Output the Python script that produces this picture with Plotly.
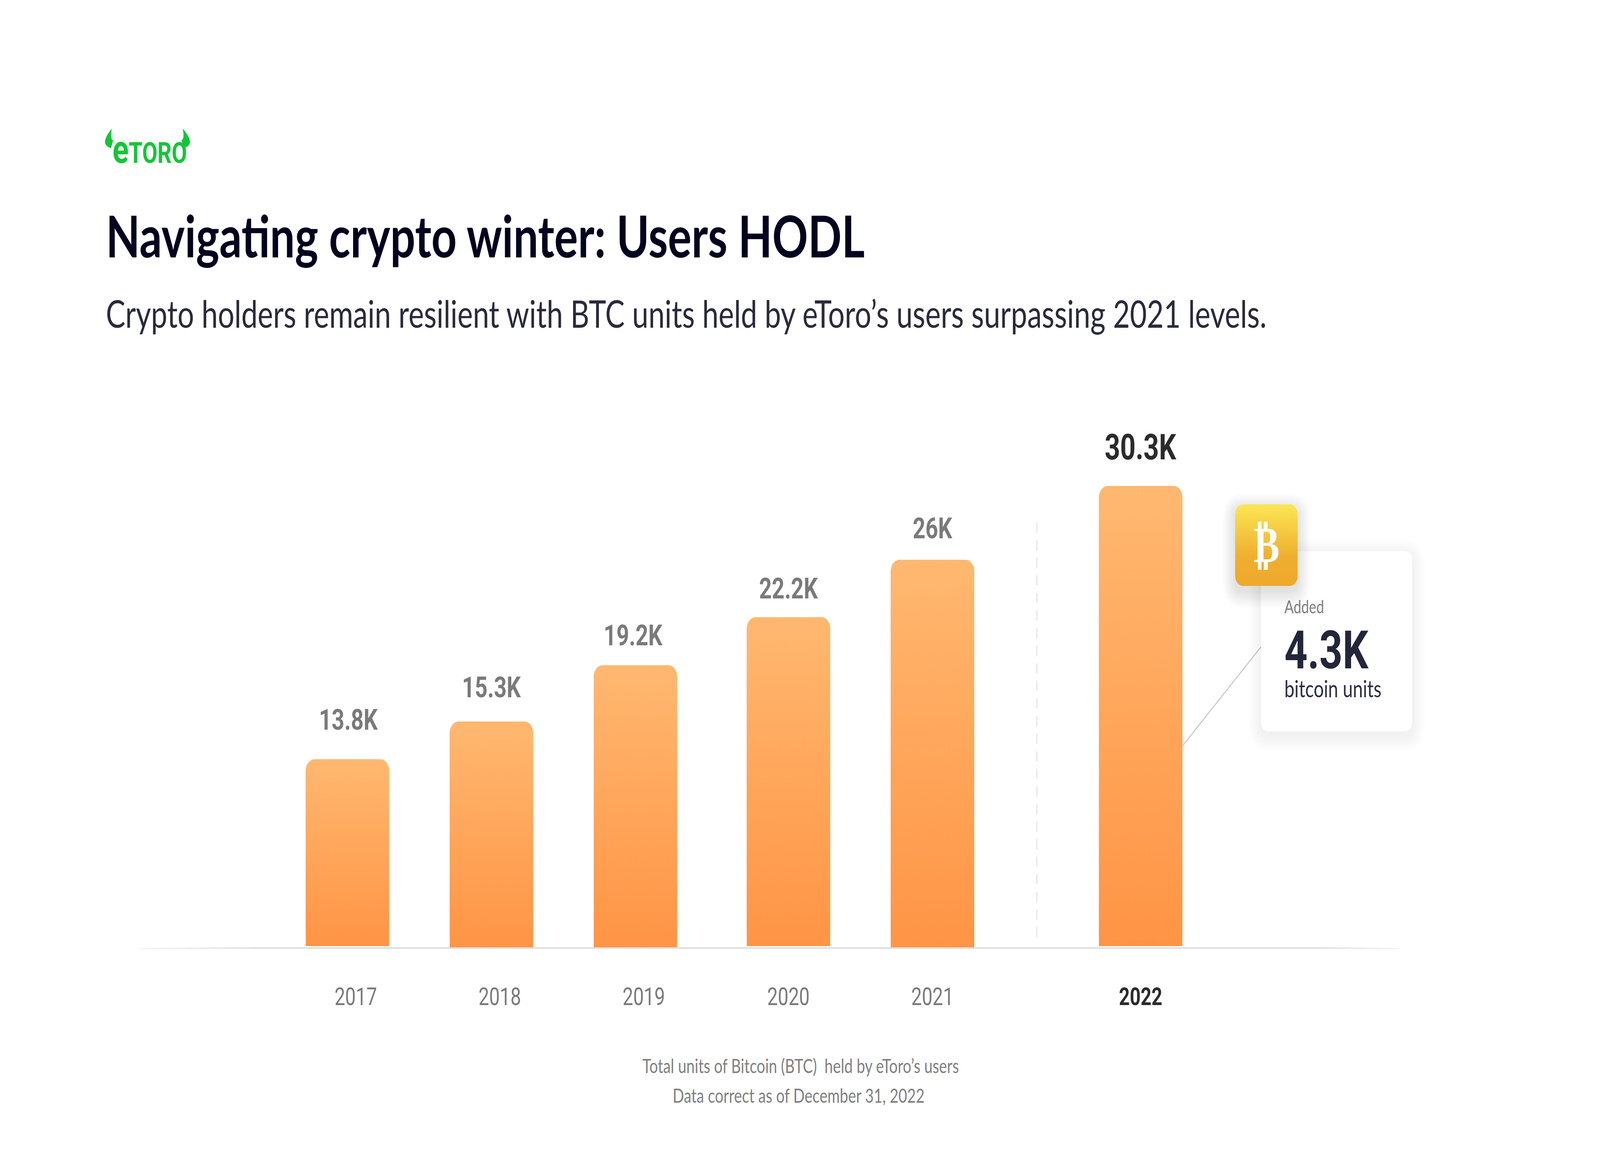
import numpy as np
import plotly.graph_objects as go

# ---- data ----
years = ["2017", "2018", "2019", "2020", "2021", "2022"]
value_labels = ["13.8K", "15.3K", "19.2K", "22.2K", "26K", "30.3K"]
bar_tops = [12.37, 14.86, 18.56, 21.72, 25.50, 30.36]      # drawn bar top, thousand BTC
bar_bases = [0.08, -0.08, -0.08, 0.08, -0.08, 0.08]        # drawn bar foot
slots = [0.0, 1.0, 2.0, 3.0625, 4.0625, 5.508]             # bar centres on the x axis
tick_slots = [0.058, 1.058, 2.058, 3.0625, 4.0625, 5.508]  # tick label centres
label_slots = [0.008, 1.0, 1.985, 3.0625, 4.0625, 5.508]   # value label centres
label_gaps = [57, 43, 32, 29, 36, 45]                      # px between bar top and label box

W, H = 5333, 3008
BASE_Y = 2425
PX_PER_UNIT_Y = 38.9
PX_PER_SLOT = 480
ORIGIN_X = 1158
AX_L, AX_R = 467, 4660
BAR_W = 278 / PX_PER_SLOT
GREY = "#7A7A7A"
DARK = "#2B2B2B"

def fx(x):  # page px -> paper x
    return (x - AX_L) / (AX_R - AX_L)

def fy(y):  # page px -> paper y
    return 1 - y / BASE_Y

def sx(x):  # page px -> x value
    return (x - ORIGIN_X) / PX_PER_SLOT

def vy(y):  # page px -> y value
    return (BASE_Y - y) / PX_PER_UNIT_Y

def rr_path(x0, y0, x1, y1, r):
    a, b, c, d = fx(x0), fx(x1), fy(y0), fy(y1)
    ra, rb = r / (AX_R - AX_L), r / BASE_Y
    return (f"M{a+ra},{c} L{b-ra},{c} Q{b},{c} {b},{c-rb} L{b},{d+rb} Q{b},{d} {b-ra},{d} "
            f"L{a+ra},{d} Q{a},{d} {a},{d+rb} L{a},{c-rb} Q{a},{c} {a+ra},{c} Z")

def shadow(x0, y0, x1, y1, r, spread, dy, alpha):
    out = []
    for s in np.linspace(spread, 2, 14):
        out.append(dict(type="path", xref="paper", yref="paper", layer="below",
                        path=rr_path(x0 - s, y0 - s + dy, x1 + s, y1 + s + dy, r + s),
                        fillcolor=f"rgba(40,40,60,{alpha})", line_width=0))
    return out

def rounded_outline(xl, xr, top, bot, rx, ry, round_bottom=False):
    t = np.linspace(0, np.pi / 2, 10)
    xs = list(xl + rx - rx * np.cos(t)) + list(xr - rx + rx * np.sin(t))
    ys = list(top - ry + ry * np.sin(t)) + list(top - ry + ry * np.cos(t))
    if round_bottom:
        xs += list(xr - rx + rx * np.cos(t)) + list(xl + rx - rx * np.sin(t))
        ys += list(bot + ry - ry * np.sin(t)) + list(bot + ry - ry * np.cos(t))
    else:
        xs += [xr, xl]
        ys += [bot, bot]
    xs.append(xs[0]); ys.append(ys[0])
    return xs, ys

fig = go.Figure()

heights = [t - b for t, b in zip(bar_tops, bar_bases)]
fig.add_trace(go.Bar(x=slots, y=heights, base=bar_bases, width=BAR_W,
                     marker=dict(color="#FFA65B", cornerradius=30, line_width=0),
                     cliponaxis=False, hoverinfo="skip", showlegend=False))

for cx, top, base in zip(slots, bar_tops, bar_bases):
    xs, ys = rounded_outline(cx - BAR_W / 2, cx + BAR_W / 2, top, base,
                             30 / PX_PER_SLOT, 30 / PX_PER_UNIT_Y)
    fig.add_trace(go.Scatter(x=xs, y=ys, mode="lines", line_width=0, fill="toself",
                             fillgradient=dict(type="vertical",
                                               colorscale=[[0, "#FF9445"], [1, "#FFB870"]]),
                             cliponaxis=False, hoverinfo="skip", showlegend=False))

# bitcoin badge
xs, ys = rounded_outline(sx(4117), sx(4325), vy(1291), vy(1500),
                         26 / PX_PER_SLOT, 26 / PX_PER_UNIT_Y, round_bottom=True)
fig.add_trace(go.Scatter(x=xs, y=ys, mode="lines", line_width=0, fill="toself",
                         fillgradient=dict(type="vertical",
                                           colorscale=[[0, "#EEA92B"], [0.35, "#EFAE2F"], [1, "#FBE654"]]),
                         cliponaxis=False, hoverinfo="skip", showlegend=False))

shapes = []
# dashed separator
shapes.append(dict(type="line", xref="paper", yref="paper", layer="below",
                   x0=fx(3456), x1=fx(3456), y0=fy(1338), y1=fy(2416),
                   line=dict(color="#E6E6E6", width=4, dash="26px,19px")))
# connector
shapes.append(dict(type="line", xref="paper", yref="paper", layer="below",
                   x0=fx(3941), y0=fy(1910), x1=fx(4203), y1=fy(1656),
                   line=dict(color="#C6C6C6", width=3)))
# card
shapes += shadow(4203, 1411, 4707, 1872, 26, 42, 10, 0.0045)
shapes.append(dict(type="path", xref="paper", yref="paper", layer="below",
                   path=rr_path(4203, 1411, 4707, 1872, 26), fillcolor="#FFFFFF", line_width=0))
shapes += shadow(4117, 1291, 4325, 1500, 26, 42, 14, 0.007)

# axis line fading out at both ends
def fade(x_solid, x_end, n=24):
    edges = np.linspace(x_solid, x_end, n + 1)
    for k in range(n):
        alpha = (k + 0.5) / n
        shapes.append(dict(type="rect", xref="paper", yref="paper", layer="above",
                           x0=fx(edges[k]), x1=fx(edges[k + 1]), y0=fy(BASE_Y + 3), y1=fy(BASE_Y - 3),
                           fillcolor=f"rgba(255,255,255,{alpha:.3f})", line_width=0))
fade(860, AX_L)
fade(4390, AX_R)

# logo horns
def p(x, y):
    return f"{fx(x)},{fy(y)}"
shapes.append(dict(type="path", xref="paper", yref="paper", layer="above", fillcolor="#13C636", line_width=0,
                   path=f"M{p(373,329)} Q{p(349,352)} {p(350,364)} Q{p(351,375)} {p(370,379)} "
                        f"L{p(377,359)} Q{p(366,355)} {p(373,329)} Z"))
shapes.append(dict(type="path", xref="paper", yref="paper", layer="above", fillcolor="#13C636", line_width=0,
                   path=f"M{p(609,329)} Q{p(634,352)} {p(633,364)} Q{p(632,375)} {p(612,379)} "
                        f"L{p(605,359)} Q{p(616,355)} {p(609,329)} Z"))

ann = []
def text(t, x, y, size, color, font, xanchor="left", yanchor="middle"):
    ann.append(dict(text=t, x=fx(x), y=fy(y), xref="paper", yref="paper", xanchor=xanchor, yanchor=yanchor,
                    showarrow=False, borderpad=0, font=dict(size=size, color=color, family=font)))

# value labels from the data
for i, (cx, top, lab, gap) in enumerate(zip(label_slots, bar_tops, value_labels, label_gaps)):
    last = i == len(slots) - 1
    ann.append(dict(text=f"<b>{lab}</b>", x=cx, y=top, xref="x", yref="y", xanchor="center", yanchor="bottom",
                    yshift=gap, showarrow=False, borderpad=0,
                    font=dict(size=90 if last else 74, color=DARK if last else GREY, family="Roboto")))

text("<b>Navigating crypto winter: Users HODL</b>", 352, 602, 147.5, "#03031F", "Lato")
text("Crypto holders remain resilient with BTC units held by eToro’s users surpassing 2021 levels.",
     352, 801, 97.3, "#2A2A3C", "Lato")
text("Total units of Bitcoin (BTC)  held by eToro’s users", 2668, 2728, 50, "#808080", "Lato", "center")
text("Data correct as of December 31, 2022", 2662, 2804, 50, "#808080", "Lato", "center")
text("Added", 4280, 1552, 46, "#7E7E7E", "Lato")
text("<b>4.3K</b>", 4280, 1665, 135, "#23263A", "Roboto")
text("bitcoin units", 4280, 1762, 60, "#2A2D45", "Lato")
text("<b>₿</b>", 4221, 1394, 130, "#FFFFFF", "DejaVu Sans", "center")
text('<b><span style="font-size:100px">e</span>TORO</b>', 374, 382, 74, "#13C636", "Roboto")

ticktext = [y if y != "2022" else f'<b><span style="color:{DARK}">{y}</span></b>' for y in years]

fig.update_layout(
    width=W, height=H, paper_bgcolor="#FFFFFF", plot_bgcolor="#FFFFFF",
    margin=dict(l=AX_L, r=W - AX_R, t=0, b=H - BASE_Y, pad=0, autoexpand=False),
    showlegend=False, barmode="overlay", shapes=shapes, annotations=ann,
    xaxis=dict(range=[sx(AX_L), sx(AX_R)], tickmode="array", tickvals=tick_slots, ticktext=ticktext,
               showgrid=False, zeroline=False, showline=True, linecolor="#DEDEDE", linewidth=4,
               ticks="outside", ticklen=68, tickcolor="rgba(0,0,0,0)", tickangle=0,
               tickfont=dict(size=63, color=GREY, family="Roboto")),
    yaxis=dict(range=[0, BASE_Y / PX_PER_UNIT_Y], visible=False, fixedrange=True),
)

# Fit the 5333x3008 figure to the window actually opened (identity when the window is 5333x3008).
fit = f"""
document.documentElement.style.overflow='hidden';
document.body.style.margin='0';document.body.style.overflow='hidden';document.body.style.background='#fff';
var g=document.querySelector('.plotly-graph-div');
g.style.transformOrigin='0 0';
g.style.transform='scale('+(window.innerWidth/{W})+','+(window.innerHeight/{H})+')';
"""
fig.write_html("out.html", post_script=fit, config={"displayModeBar": False})
